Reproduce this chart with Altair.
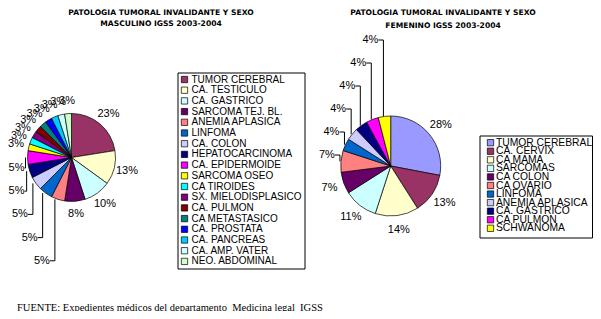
import math
import altair as alt
import pandas as pd

W, H = 585, 303

# ---------------- data ----------------
masc_cat = ["TUMOR CEREBRAL", "CA. TESTICULO", "CA. GASTRICO", "SARCOMA TEJ. BL.",
            "ANEMIA APLASICA", "LINFOMA", "CA. COLON", "HEPATOCARCINOMA",
            "CA. EPIDERMOIDE", "SARCOMA OSEO", "CA TIROIDES", "SX. MIELODISPLASICO",
            "CA. PULMON", "CA METASTASICO", "CA. PROSTATA", "CA. PANCREAS",
            "CA. AMP. VATER", "NEO. ABDOMINAL"]
masc_casos = [9, 5, 4, 3, 2, 2, 2, 2, 2, 1, 1, 1, 1, 1, 1, 1, 1, 1]
masc_colors = ["#993366", "#FFFFCC", "#CCFFFF", "#660066", "#FF8080", "#0066CC",
               "#CCCCFF", "#000080", "#FF00FF", "#FFFF00", "#00FFFF", "#800080",
               "#800000", "#008080", "#0000FF", "#00CCFF", "#CCFFFF", "#CCFFCC"]

fem_cat = ["TUMOR CEREBRAL", "CA. CERVIX", "CA MAMA", "SARCOMAS", "CA COLON",
           "CA OVARIO", "LINFOMA", "ANEMIA APLASICA", "CA. GASTRICO", "CA PULMON",
           "SCHWANOMA"]
fem_pct = [28, 13, 14, 11, 7, 7, 4, 4, 4, 4, 4]
fem_colors = ["#9999FF", "#993366", "#FFFFCC", "#CCFFFF", "#660066", "#FF8080",
              "#0066CC", "#CCCCFF", "#000080", "#FF00FF", "#FFFF00"]

title_masc = "PATOLOGIA TUMORAL INVALIDANTE Y SEXO\nMASCULINO IGSS 2003-2004"
title_fem = "PATOLOGIA TUMORAL INVALIDANTE Y SEXO\nFEMENINO IGSS 2003-2004"
fuente = "FUENTE: Expedientes médicos del departamento \u00a0Medicina legal \u00a0IGSS"

# ---------------- layout ----------------
L_CX, L_CY, L_R, L_LR = 63.5, 149.5, 44, 57
R_CX, R_CY, R_R, R_LR = 382.7, 158.0, 50, 65
LABEL_FONT = "Liberation Sans"
# right legend (drawn by hand: Excel packs its rows tighter than Vega allows)
RL_X0, RL_X1, RL_Y0, RL_Y1 = 472, 584.5, 128, 230
RL_SYM_X, RL_TXT_X, RL_ROW0, RL_STEP = 482.5, 488, 134.7, 8.56


def frame(cats, vals):
    tot = sum(vals)
    df = pd.DataFrame({"cat": cats, "v": vals, "idx": list(range(len(cats)))})
    df["pct"] = [f"{int(v / tot * 100 + 0.5)}%" for v in vals]
    cum = df["v"].cumsum() - df["v"] / 2
    df["mid"] = cum / tot * 2 * math.pi
    return df


mdf = frame(masc_cat, masc_casos)
fdf = frame(fem_cat, fem_pct)
fdf["ly"] = RL_ROW0 + fdf["idx"] * RL_STEP

# labels that Excel moved out to a staircase with leader lines
m_moved = {8: 0, 7: 1, 6: 2, 5: 3, 4: 4}
f_moved = {5: 0, 6: 1, 7: 2, 8: 3, 9: 4, 10: 5}

mdf["nat"] = [("" if i in m_moved else p) for i, p in zip(mdf["idx"], mdf["pct"])]
fdf["nat"] = [("" if i in f_moved else p) for i, p in zip(fdf["idx"], fdf["pct"])]

lab_rows, lead_rows = [], []
for df, moved, cx, cy, r, side in ((mdf, m_moved, L_CX, L_CY, L_R, "m"),
                                    (fdf, f_moved, R_CX, R_CY, R_R, "f")):
    for i, k in moved.items():
        a = df.loc[i, "mid"]
        ex = cx + r * math.sin(a)
        ey = cy - r * math.cos(a)
        if side == "m":
            ly = cy + 10.5 + 23.2 * k
            lx = max(ex - 16, 8.5)
            vx = max(ex - 3, lx + 9)
        else:
            ly = cy - 11 - 23 * k
            lx = ex - 14
            vx = ex - 1
        lab_rows.append({"t": df.loc[i, "pct"], "x": lx, "y": ly})
        lead_rows.append({"x": lx + 8, "y": ly, "x2": vx, "y2": ly})
        lead_rows.append({"x": vx, "y": ly, "x2": vx, "y2": ey})
lab_df = pd.DataFrame(lab_rows)
lead_df = pd.DataFrame(lead_rows)

XN = dict(scale=None, axis=None)

left_legend = alt.Legend(orient="none", legendX=169.5, legendY=64.5, title=None,
                         symbolType="square", symbolSize=40,
                         symbolStrokeColor="black", symbolStrokeWidth=0.7,
                         labelFont=LABEL_FONT, labelFontSize=10, labelColor="black",
                         strokeColor="black", fillColor="white", padding=2,
                         rowPadding=0.7, labelOffset=2, labelLimit=300,
                         cornerRadius=0)


def pie(df, cats, colors, cx, cy, r, lr, leg):
    base = alt.Chart(df).encode(
        theta=alt.Theta("v:Q", stack=True),
        order=alt.Order("idx:Q"),
    )
    arc = base.mark_arc(outerRadius=r, stroke="black", strokeWidth=0.7).encode(
        color=alt.Color("cat:N", scale=alt.Scale(domain=cats, range=colors), legend=leg),
        x=alt.value(cx), y=alt.value(cy),
    )
    txt = base.mark_text(radius=lr, font=LABEL_FONT, fontSize=11, color="black").encode(
        text="nat:N", detail="cat:N", x=alt.value(cx), y=alt.value(cy),
    )
    return arc, txt


l_arc, l_txt = pie(mdf, masc_cat, masc_colors, L_CX, L_CY, L_R, L_LR, left_legend)
r_arc, r_txt = pie(fdf, fem_cat, fem_colors, R_CX, R_CY, R_R, R_LR, None)

# hand-made right legend
r_box = alt.Chart(pd.DataFrame({"t": [""]})).mark_rect(
    fill="white", stroke="black", strokeWidth=1).encode(
    x=alt.value(RL_X0), x2=alt.value(RL_X1), y=alt.value(RL_Y0), y2=alt.value(RL_Y1))
r_sym = alt.Chart(fdf).mark_square(size=40, stroke="black", strokeWidth=0.7, opacity=1).encode(
    x=alt.value(RL_SYM_X), y=alt.Y("ly:Q", **XN),
    color=alt.Color("cat:N", scale=alt.Scale(domain=fem_cat, range=fem_colors), legend=None))
r_lab = alt.Chart(fdf).mark_text(font=LABEL_FONT, fontSize=10.3, color="black",
                                 align="left", baseline="middle").encode(
    x=alt.value(RL_TXT_X), y=alt.Y("ly:Q", **XN), text="cat:N")

left = alt.layer(l_arc, l_txt)
right = alt.layer(r_arc, r_txt, r_box, r_sym, r_lab)

moved_txt = alt.Chart(lab_df).mark_text(font=LABEL_FONT, fontSize=11, color="black").encode(
    x=alt.X("x:Q", **XN), y=alt.Y("y:Q", **XN), text="t:N")
leaders = alt.Chart(lead_df).mark_rule(color="black", strokeWidth=1).encode(
    x=alt.X("x:Q", **XN), y=alt.Y("y:Q", **XN), x2="x2:Q", y2="y2:Q")


def title_text(t, x, y, lh):
    return alt.Chart(pd.DataFrame({"t": [t]})).mark_text(
        font="DejaVu Sans", fontWeight="bold", fontSize=7.6, color="black",
        lineBreak="\n", lineHeight=lh, baseline="top").encode(
        text="t:N", x=alt.value(x), y=alt.value(y))


t1 = title_text(title_masc, 153, 1, 11)
t2 = title_text(title_fem, 435, 1, 12.5)
foot = alt.Chart(pd.DataFrame({"t": [fuente]})).mark_text(
    font="Liberation Serif", fontSize=10.5, color="black", align="left",
    baseline="alphabetic").encode(text="t:N", x=alt.value(9), y=alt.value(302.5))

chart = alt.layer(left, right, leaders, moved_txt, t1, t2, foot).resolve_scale(
    theta="independent", color="independent"
).properties(
    width=W, height=H, autosize=alt.AutoSizeParams(type="none"), padding=0
).configure_view(stroke=None)

chart.save("out.html", embed_options={"renderer": "svg", "actions": False})
